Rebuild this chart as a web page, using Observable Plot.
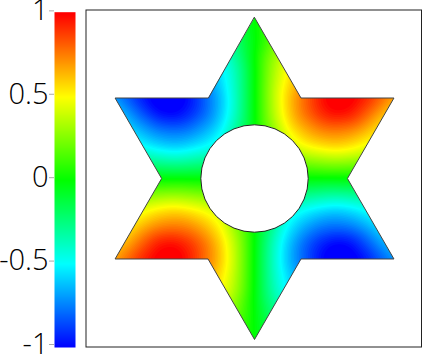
<!DOCTYPE html>
<html><head><meta charset="utf-8">
<script src="https://cdn.jsdelivr.net/npm/d3@7"></script>
<script src="https://cdn.jsdelivr.net/npm/@observablehq/plot@0.6"></script>
<style>
html,body{margin:0;padding:0;background:#fff;width:423px;height:355px;overflow:hidden}
#c{position:relative;width:423px;height:355px}
#c svg{position:absolute;left:0;top:0;background:transparent;overflow:hidden}
</style></head><body><div id="c"></div>
<script>
const colorStops = [-1, -0.5, 0, 0.5, 1];
const colorNames = ["#0000ff", "#00ffff", "#00ff00", "#ffff00", "#ff0000"];
const tickValues = [-1, -0.5, 0, 0.5, 1];
const tickLabels = ["-1", "-0.5", "0", "0.5", "1"];
const starX = [0, 0.2887, 0.866, 0.577, 0.866, 0.2887, 0, -0.2887, -0.866, -0.577, -0.866, -0.2887];
const starY = [1, 0.5, 0.5, 0, -0.5, -0.5, -1, -0.5, -0.5, 0, 0.5, 0.5];
const holeX = [0], holeY = [0];
const gridX = [-1.1,-0.9,-0.8,-0.7,-0.6,-0.5,-0.4,-0.3,-0.2,-0.1,0,0.1,0.2,0.3,0.4,0.5,0.6,0.7,0.8,0.9,1.1];
const gridY = [1.1,0.9,0.8,0.7,0.6,0.5,0.4,0.3,0.2,0.1,0,-0.1,-0.2,-0.3,-0.4,-0.5,-0.6,-0.7,-0.8,-0.9,-1.1];
const field = [
[-.4,-.4,-.4,-.4,-.4,-.4,-.35,-.3,-.2,-.1,0,.1,.2,.3,.35,.4,.4,.4,.4,.4,.4],
[-.45,-.55,-.6,-.65,-.65,-.6,-.55,-.45,-.3,-.15,0,.15,.3,.45,.55,.6,.65,.65,.6,.55,.45],
[-.5,-.6,-.7,-.75,-.8,-.75,-.65,-.55,-.42,-.22,0,.22,.42,.55,.65,.75,.8,.75,.7,.6,.5],
[-.5,-.65,-.75,-.85,-.9,-.9,-.8,-.65,-.5,-.3,0,.3,.5,.65,.8,.9,.9,.85,.75,.65,.5],
[-.55,-.7,-.8,-.9,-1,-1.02,-.9,-.72,-.55,-.32,0,.32,.55,.72,.9,1.02,1,.9,.8,.7,.55],
[-.5,-.65,-.8,-.95,-1.05,-1.08,-.97,-.8,-.6,-.33,0,.33,.6,.8,.97,1.08,1.05,.95,.8,.65,.5],
[-.45,-.55,-.65,-.82,-.97,-1,-.92,-.78,-.58,-.32,0,.32,.58,.78,.92,1,.97,.82,.65,.55,.45],
[-.4,-.45,-.52,-.65,-.75,-.78,-.75,-.65,-.5,-.25,0,.25,.5,.65,.75,.78,.75,.65,.52,.45,.4],
[-.3,-.35,-.4,-.48,-.56,-.6,-.56,-.5,-.4,-.18,0,.18,.4,.5,.56,.6,.56,.48,.4,.35,.3],
[-.15,-.18,-.2,-.25,-.28,-.3,-.28,-.25,-.2,-.1,0,.1,.2,.25,.28,.3,.28,.25,.2,.18,.15],
[0,0,0,0,0,0,0,0,0,0,0,0,0,0,0,0,0,0,0,0,0],
[.15,.18,.2,.25,.28,.3,.28,.25,.2,.1,0,-.1,-.2,-.25,-.28,-.3,-.28,-.25,-.2,-.18,-.15],
[.3,.35,.4,.48,.56,.6,.56,.5,.4,.18,0,-.18,-.4,-.5,-.56,-.6,-.56,-.48,-.4,-.35,-.3],
[.4,.45,.52,.65,.75,.78,.75,.65,.5,.25,0,-.25,-.5,-.65,-.75,-.78,-.75,-.65,-.52,-.45,-.4],
[.45,.55,.65,.82,.97,1,.92,.78,.58,.32,0,-.32,-.58,-.78,-.92,-1,-.97,-.82,-.65,-.55,-.45],
[.5,.65,.8,.95,1.05,1.08,.97,.8,.6,.33,0,-.33,-.6,-.8,-.97,-1.08,-1.05,-.95,-.8,-.65,-.5],
[.55,.7,.8,.9,1,1.02,.9,.72,.55,.32,0,-.32,-.55,-.72,-.9,-1.02,-1,-.9,-.8,-.7,-.55],
[.5,.65,.75,.85,.9,.9,.8,.65,.5,.3,0,-.3,-.5,-.65,-.8,-.9,-.9,-.85,-.75,-.65,-.5],
[.5,.6,.7,.75,.8,.75,.65,.55,.42,.22,0,-.22,-.42,-.55,-.65,-.75,-.8,-.75,-.7,-.6,-.5],
[.45,.55,.6,.65,.65,.6,.55,.45,.3,.15,0,-.15,-.3,-.45,-.55,-.6,-.65,-.65,-.6,-.55,-.45],
[.4,.4,.4,.4,.4,.4,.35,.3,.2,.1,0,-.1,-.2,-.3,-.35,-.4,-.4,-.4,-.4,-.4,-.4]
];
const samples = field.flatMap((row, j) => row.map((v, i) => ({x: gridX[i], y: gridY[j], v})));
const outerX = [0, -1.2, -1.2, 1.2, 1.2];
const outerY = [1.2, 1.2, -1.2, -1.2, 1.2];
const maskX = [0, ...starX, 0, ...outerX];
const maskY = [1.2, ...starY, 1, ...outerY];
const colorScale = {type: "linear", domain: colorStops, range: colorNames, interpolate: "rgb", clamp: true};
const FONT = "'Open Sans', Roboto, sans-serif";

const main = Plot.plot({
  width: 423, height: 355,
  marginLeft: 85.5, marginRight: 2, marginTop: 9.5, marginBottom: 8.5,
  x: {domain: [-1.0466, 1.037], axis: null},
  y: {domain: [-1.0466, 1.0466], axis: null},
  color: colorScale,
  marks: [
    Plot.contour(samples, {x: "x", y: "y", value: "v", fill: "value", interpolate: "barycentric",
      thresholds: d3.range(-1.1, 1.1, 0.02), pixelSize: 1, blur: 5, clip: true}),
    Plot.line(maskX, {x: (d, i) => maskX[i], y: (d, i) => maskY[i], fill: "white", stroke: "none", curve: "linear-closed"}),
    Plot.line(starX, {x: (d, i) => starX[i], y: (d, i) => starY[i], stroke: "#444", strokeWidth: 1, curve: "linear-closed"}),
    Plot.dot(holeX, {x: (d, i) => holeX[i], y: (d, i) => holeY[i], r: 53.7, fill: "white", stroke: "#222", strokeWidth: 1}),
    Plot.frame({stroke: "#222", strokeWidth: 1})
  ]
});

const bar = Plot.plot({
  width: 76, height: 355,
  marginLeft: 54, marginRight: 1, marginTop: 11.7, marginBottom: 8,
  x: {domain: [0, 1], axis: null},
  y: {domain: [-1, 1.01]},
  color: colorScale,
  style: {fontFamily: FONT},
  marks: [
    Plot.raster({fill: (x, y) => y, x1: 0, x2: 1, y1: -1, y2: 1.01, pixelSize: 1}),
    Plot.axisY({ticks: tickValues, tickFormat: (d) => tickLabels[tickValues.indexOf(d)], tickSize: 5, tickPadding: 1,
      stroke: "#aaa", fill: "black", fontSize: 29, fontWeight: 300, dy: -3, label: null, fontFamily: FONT})
  ]
});
const c = document.getElementById("c");
c.append(main, bar);
</script></body></html>
